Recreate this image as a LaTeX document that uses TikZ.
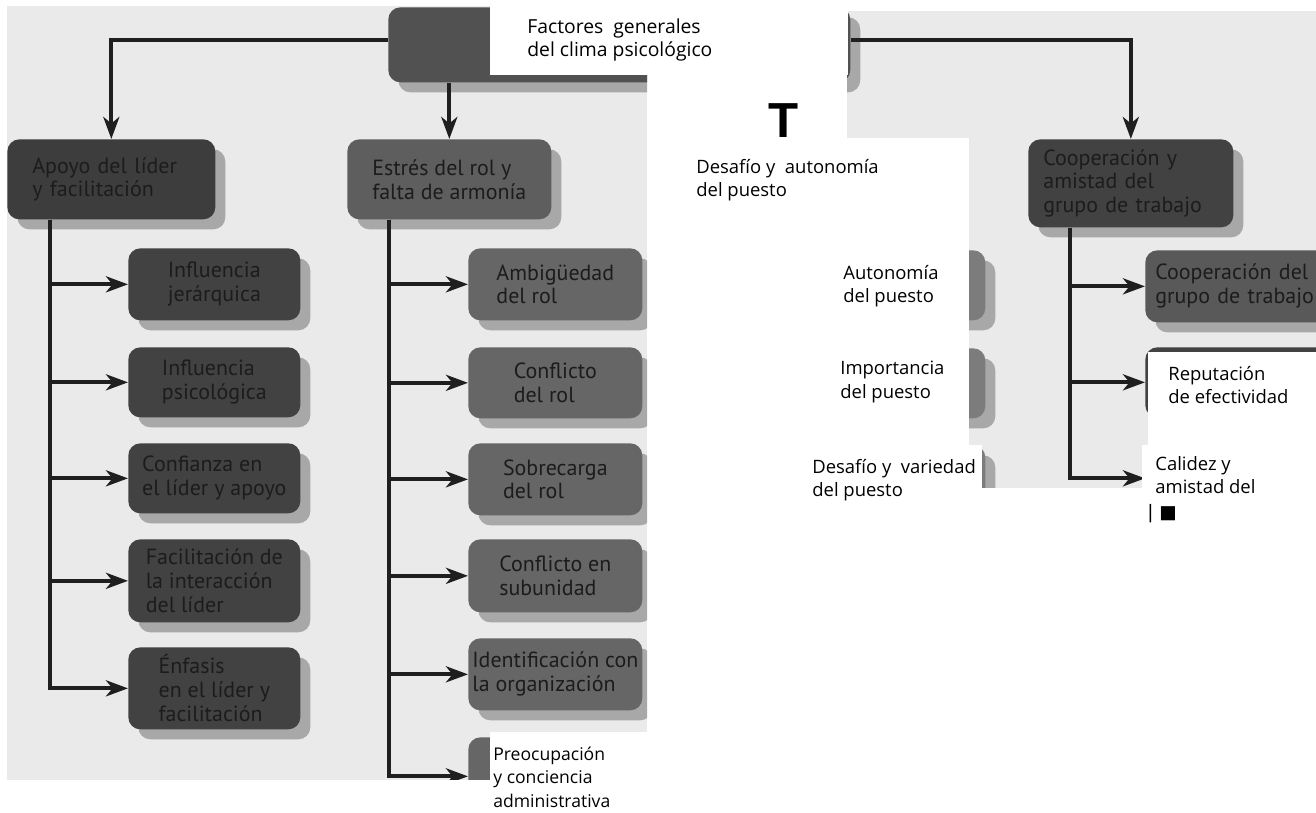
\documentclass[tikz,border=0pt]{standalone}
\usepackage{fontspec}
\setmainfont{Open Sans}
\newfontfamily\boxfont{PT Sans}
\newfontfamily\bigfont{Liberation Sans}
\newfontfamily\symfont{DejaVu Sans}
\usepackage{xcolor}
\usepackage{tikz}
\usetikzlibrary{arrows.meta}
\usetikzlibrary{shadows}
\definecolor{panelGray}{HTML}{EAEAEA}
\definecolor{shadowGray}{HTML}{A8A8A8}
\definecolor{boxDark}{HTML}{424242}
\definecolor{boxMid}{HTML}{666666}
\definecolor{boxLight}{HTML}{7C7C7C}
\definecolor{inkDark}{HTML}{1C1C1C}
\tikzset{>={Stealth[length=0.44cm, width=0.32cm, inset=0.13cm]}}
\tikzset{conn-line/.style={line width=2.3pt, color=black!88}}
\tikzset{clima-box/.style={anchor=north west, rounded corners=0.24cm, inner sep=0,
    text=inkDark, font=\boxfont\fontsize{12.5}{13.6}\selectfont, align=left,
    drop shadow={shadow xshift=0.2cm, shadow yshift=-0.2cm, fill=shadowGray, opacity=1}}}
\tikzset{dark-box/.style={clima-box, fill=boxDark}}
\tikzset{mid-box/.style={clima-box, fill=boxMid}}
\tikzset{light-box/.style={clima-box, fill=boxLight}}
\tikzset{patch/.style={fill=white}}
\tikzset{overlay-text/.style={anchor=west, inner sep=0, align=left,
    font=\fontsize{10.5}{13.3}\selectfont}}
\newcommand{\climabox}[7]{
    \node[#2, minimum width=#5cm, minimum height=#6cm] (#1) at (#3,#4) {#7};
}

\begin{document}
\begin{tikzpicture}[x=0.02cm, y=-0.02cm]
    \useasboundingbox (0,0) rectangle (1316,813);
    \fill[panelGray] (7,6) rectangle (647,780);
    \fill[panelGray] (847,11) rectangle (1316,488);

    \begin{scope}
        \clip (7,6) rectangle (647,780) (847,11) rectangle (1316,488);
        \climabox{top}{dark-box, fill=boxDark!92!white}{388}{7}{9.24}{1.5}{}

        \climabox{apoyo}{dark-box, fill=boxDark!92!black, text width=3.16cm}{7}{139}{4.16}{1.6}{Apoyo del líder\\y facilitación}
        \climabox{estres}{dark-box, fill=boxDark!85!white}{347}{139}{4.08}{1.6}{Estrés del rol y\\falta de armonía}
        \climabox{coop}{dark-box, text width=3.5cm}{1028}{139}{4.1}{1.76}{Cooperación y\\amistad del\\grupo de trabajo}

        \climabox{infl1}{dark-box}{128}{248}{3.44}{1.44}{Influencia\\jerárquica}
        \climabox{infl2}{dark-box}{128}{347}{3.44}{1.4}{Influencia\\psicológica}
        \climabox{conf}{dark-box}{128}{443}{3.44}{1.4}{Confianza en\\el líder y apoyo}
        \climabox{facil}{dark-box}{128}{539}{3.44}{1.66}{Facilitación de\\la interacción\\del líder}
        \climabox{enfasis}{dark-box}{128}{647}{3.44}{1.64}{Énfasis\\en el líder y\\facilitación}

        \climabox{ambig}{mid-box}{468}{248}{3.48}{1.44}{Ambigüedad\\del rol}
        \climabox{confrol}{mid-box}{468}{347}{3.48}{1.42}{Conflicto\\del rol}
        \climabox{sobrec}{mid-box}{468}{443}{3.48}{1.44}{Sobrecarga\\del rol}
        \climabox{subun}{mid-box}{468}{539}{3.48}{1.46}{Conflicto en\\subunidad}
        \climabox{ident}{mid-box}{468}{638}{3.48}{1.44}{Identificación con\\la organización}
        \climabox{preoc}{mid-box}{468}{737}{3.48}{1.56}{}

        \climabox{puesto1}{light-box}{800}{250}{3.7}{1.4}{}
        \climabox{puesto2}{light-box}{800}{348}{3.7}{1.4}{}
        \climabox{puesto3}{light-box}{800}{445}{3.7}{1.4}{}

        \climabox{coopgr}{dark-box, fill=boxDark!88!white, text width=3.3cm}{1145}{250}{3.7}{1.44}{Cooperación del\\grupo de trabajo}
        \climabox{reput}{dark-box}{1145}{347}{3.7}{1.4}{}
        \climabox{calid}{dark-box}{1145}{443}{3.7}{1.4}{}

        \draw[->, conn-line] ([yshift=0.1cm]top.west) -| (apoyo.north);
        \draw[->, conn-line] (top.south -| estres.north) -- (estres.north);
        \draw[->, conn-line] ([yshift=0.1cm]top.east) -| (coop.north);

        \draw[->, conn-line] ([xshift=0.86cm]apoyo.south west) |- (infl1.west);
        \draw[->, conn-line] ([xshift=0.86cm]apoyo.south west) |- (infl2.west);
        \draw[->, conn-line] ([xshift=0.86cm]apoyo.south west) |- (conf.west);
        \draw[->, conn-line] ([xshift=0.86cm]apoyo.south west) |- (facil.west);
        \draw[->, conn-line] ([xshift=0.86cm]apoyo.south west) |- (enfasis.west);

        \draw[->, conn-line] ([xshift=0.84cm]estres.south west) |- (ambig.west);
        \draw[->, conn-line] ([xshift=0.84cm]estres.south west) |- (confrol.west);
        \draw[->, conn-line] ([xshift=0.84cm]estres.south west) |- (sobrec.west);
        \draw[->, conn-line] ([xshift=0.84cm]estres.south west) |- (subun.west);
        \draw[->, conn-line] ([xshift=0.84cm]estres.south west) |- (ident.west);
        \draw[->, conn-line] ([xshift=0.84cm]estres.south west) |- (preoc.west);

        \draw[->, conn-line] ([xshift=0.84cm]coop.south west) |- (coopgr.west);
        \draw[->, conn-line] ([xshift=0.84cm]coop.south west) |- (reput.west);
        \draw[->, conn-line] ([xshift=0.84cm]coop.south west) |- (calid.west);
    \end{scope}

    % pasted labels
    \fill[patch] (490,0) rectangle (848,75);
    \fill[patch] (847,138) rectangle (969,489);
    \fill[patch] (969,445) rectangle (982,489);
    \fill[patch] (1148,352) rectangle (1316,445);
    \fill[patch] (1142,445) rectangle (1316,489);
    \fill[patch] (490,732) rectangle (648,781);

    \node[overlay-text, font=\fontsize{11}{13.3}\selectfont] (fact) at (527,40) {Factores\ \ generales\\del clima psicológico};
    \node[inner sep=0, font=\bigfont\bfseries\fontsize{28}{30}\selectfont] (bigT) at (784,121) {T};
    \node[overlay-text] (desaut) at (696,180) {Desafío y\ \ autonomía\\del puesto};
    \node[overlay-text] (auton) at (843,286) {Autonomía\\del puesto};
    \node[overlay-text] (impor) at (840,382) {Importancia\\del puesto};
    \node[overlay-text] (desvar) at (812,480) {Desafío y\ \ variedad\\del puesto};
    \node[overlay-text] (reptxt) at (1168,385) {Reputación\\de efectividad};
    \node[overlay-text] (caltxt) at (1155,475) {Calidez y\\amistad del};
    \node[overlay-text, font=\symfont\fontsize{10.5}{13}\selectfont] (calmark) at (1147,514) {| ■};
    \node[overlay-text, font=\fontsize{10}{13.3}\selectfont] (pretxt) at (493,777) {Preocupación\\y conciencia\\administrativa};
\end{tikzpicture}
\end{document}
